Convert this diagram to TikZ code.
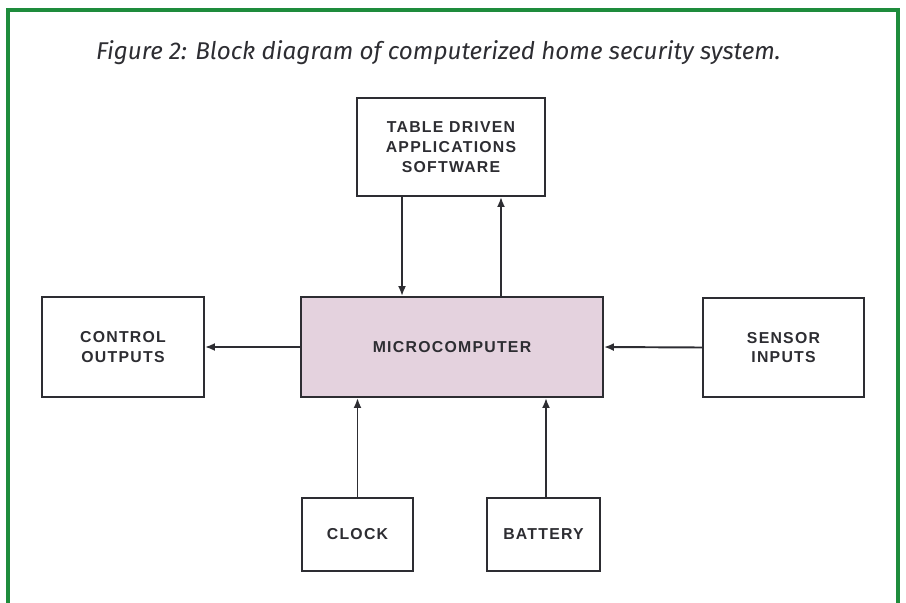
\documentclass[tikz,border=0pt]{standalone}
\usepackage{fontspec}
\setmainfont{Liberation Sans}
\newfontfamily\captionfont{Fira Sans}
\newfontfamily\boxfont[LetterSpace=8]{Liberation Sans}
\usetikzlibrary{arrows.meta, positioning, calc}
\definecolor{framegreen}{RGB}{30,140,60}
\definecolor{micropink}{RGB}{228,210,222}
\definecolor{inkgrey}{RGB}{45,45,50}
\tikzset{
  block/.style = {rectangle, draw=inkgrey, line width=1.1pt, fill=white, align=center,
                  text=inkgrey, font=\boxfont\bfseries\fontsize{9}{11.3}\selectfont, inner sep=0pt},
  core/.style = {block, fill=micropink},
  arrow/.style = {draw=inkgrey, line width=1.1pt, -{Latex[length=2mm, width=1.6mm]}}
}

\begin{document}
\begin{tikzpicture}[x=0.02cm, y=-0.02cm]
    \useasboundingbox (0,0) rectangle (906,602);

    % green frame
    \draw[framegreen, line width=1.8pt] (8,620) -- (8,10) -- (898,10) -- (898,620);

    % caption
    \node[font=\captionfont\itshape\fontsize{13.8}{17}\selectfont, text=inkgrey, anchor=west] (caption) at (90,53)
      {Figure 2: Block diagram of computerized home security system.};

    % central block + neighbours
    \node[core, minimum width=6.04cm, minimum height=2cm] (micro) at (452,347) {MICROCOMPUTER};
    \node[block, minimum width=3.76cm, minimum height=1.96cm] (software) at (451,147)
      {TABLE DRIVEN\\APPLICATIONS\\SOFTWARE};
    \node[block, minimum width=3.24cm, minimum height=2cm] (control) at (123,347) {CONTROL\\OUTPUTS};
    \node[block, minimum width=3.22cm, minimum height=1.98cm] (sensor) at (783.5,347.5) {SENSOR\\INPUTS};

    % bottom row
    \node[block, minimum width=2.22cm, minimum height=1.46cm] (clock) at (357.5,534.5) {CLOCK};
    \node[block, minimum width=2.26cm, minimum height=1.46cm] (battery) at (543.5,534.5) {BATTERY};

    % arrows to and from the software
    \draw[arrow] ([xshift=-0.98cm]software.south) -- ([xshift=-0.98cm]software.south |- micro.north);
    \draw[arrow] ([xshift=1cm]software.south |- micro.north) -- ([xshift=1cm]software.south);

    % side arrows
    \draw[arrow] (micro.west) -- (control.east);
    \draw[arrow] (sensor.west) -- (micro.east);

    % bottom arrows
    \draw[arrow] (clock.north) -- (clock.north |- micro.south);
    \draw[arrow] ([xshift=0.05cm]battery.north) -- ([xshift=0.05cm]battery.north |- micro.south);

  \end{tikzpicture}
\end{document}
